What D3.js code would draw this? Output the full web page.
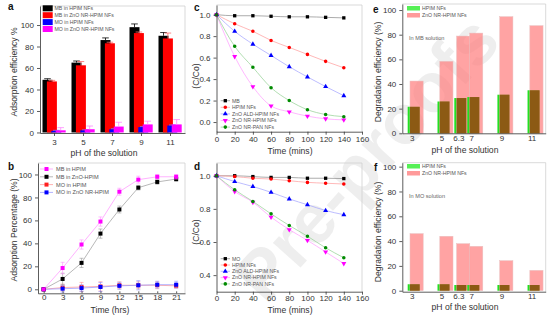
<!DOCTYPE html>
<html><head><meta charset="utf-8">
<script src="https://cdn.jsdelivr.net/npm/d3@7"></script>
<style>body{margin:0;background:#fff}svg{display:block;font-family:"Liberation Sans",Arial,sans-serif}</style>
</head><body><svg id="c" width="554" height="321"></svg>
<script>
// ---------- data ----------
// panel a
const phA = ["3","5","7","9","11"];
const aMB_HPIM = [49,65,86,98,90];
const aMB_ZnO = [47.5,62.5,83,92.5,87.5];
const aMO_HPIM = [1.5,2,3,5,6.5];
const aMO_ZnO = [2,3,5.5,7.5,7.5];
const aErrMB_HPIM = [1,1.5,2,3,3];
const aErrMB_ZnO = [1,3.5,1,1,5];
const aErrMO_HPIM = [0.5,0.5,0.5,0.5,0.5];
const aErrMO_ZnO = [2.5,3,4,3,4.5];
const aNames = ["MB in HPIM NFs","MB in ZnO NR-HPIM NFs","MO in HPIM NFs","MO in ZnO NR-HPIM NFs"];
// panel b
const tHrs = [0,3,6,9,12,15,18,21];
const bMB_HPIM = [0,18.5,39,59,85,95.5,98,98];
const bMB_ZnO = [0,9,23,48.5,69.5,88.5,93.5,96];
const bMO_HPIM = [0,1.5,2,2.5,3.5,3.5,3.5,3];
const bMO_ZnO = [0,0.5,1,2,3,3.5,4,4];
const bErrMB_HPIM = [0,5,4,4,3,3,2,2];
const bErrMB_ZnO = [0,5,4,4,3,2,2,2];
const bErrMO_HPIM = [0,3,4,4,3,3,3,2];
const bErrMO_ZnO = [0,3,3,4,3,4,3,3];
const bNames = ["MB in HPIM","MB in ZnO-HPIM","MO in HPIM","MO in ZnO NR-HPIM"];
// panels c, d
const tMin = [0,20,40,60,80,100,120,140];
const cMB = [1.0,0.99,0.99,0.985,0.98,0.98,0.975,0.97];
const cHPIM = [1.0,0.915,0.845,0.76,0.695,0.63,0.565,0.505];
const cALD = [1.0,0.845,0.725,0.62,0.515,0.42,0.33,0.245];
const cNRHPIM = [1.0,0.61,0.33,0.15,0.095,0.055,0.03,0.02];
const cNRPAN = [1.0,0.705,0.51,0.32,0.2,0.115,0.07,0.05];
const cNames = ["MB","HPIM NFs","ZnO ALD-HPIM NFs","ZnO NR-HPIM NFs","ZnO NR-PAN NFs"];
const dMO = [1.0,1.0,0.995,0.99,0.99,0.985,0.985,0.983];
const dHPIM = [1.0,0.995,0.985,0.98,0.97,0.96,0.955,0.95];
const dALD = [1.0,0.965,0.935,0.9,0.86,0.825,0.79,0.765];
const dNRHPIM = [1.0,0.905,0.84,0.75,0.675,0.61,0.54,0.47];
const dNRPAN = [1.0,0.915,0.845,0.77,0.70,0.635,0.565,0.505];
const dNames = ["MO","HPIM NFs","ZnO ALD-HPIM NFs","ZnO NR-HPIM NFs","ZnO NR-PAN NFs"];
// panels e, f
const phE = [3,5,6.3,7,9,11];
const phELabels = ["3","5","6.3","7","9","11"];
const eHPIM = [21.5,25.8,28.6,29.4,31.3,34.9];
const eZnO = [42.4,58.4,78.9,81.3,94.6,87.3];
const fHPIM = [5.2,5.2,4.6,4.6,4.6,4.6];
const fZnO = [46,43.9,37.9,35.8,24.2,16.4];
const eNames = ["HPIM NFs","ZnO NR-HPIM NFs"];

// ---------- helpers ----------
const svg = d3.select("#c");
const AX = "#333", FR = "#cfcfcf", TX = "#333";
function styleAxis(g){
  g.selectAll("path,line").attr("stroke",AX).attr("stroke-width",0.8);
  g.selectAll("text").attr("font-size",8).attr("fill",TX);
}
function frame(xr, yr){
  svg.append("path").attr("d",`M${xr[0]},${yr[1]}H${xr[1]}V${yr[0]}`)
    .attr("fill","none").attr("stroke",FR).attr("stroke-width",0.8);
}
function xAxis(scale, y, ticks, fmt, tsize, pad){
  const ax = d3.axisBottom(scale).tickSize(tsize===undefined?3:tsize).tickSizeOuter(0);
  if(pad!==undefined) ax.tickPadding(pad);
  if(ticks) ax.tickValues(ticks);
  if(fmt) ax.tickFormat(fmt);
  svg.append("g").attr("transform",`translate(0,${y})`).call(ax).call(styleAxis);
}
function yAxis(scale, x, ticks, fmt){
  const ax = d3.axisLeft(scale).tickSize(3).tickSizeOuter(0).tickValues(ticks);
  if(fmt) ax.tickFormat(fmt);
  svg.append("g").attr("transform",`translate(${x},0)`).call(ax).call(styleAxis);
}
function label(txt,x,y){ svg.append("text").attr("x",x).attr("y",y).attr("font-size",10).attr("font-weight","bold").attr("fill","#111").text(txt); }
function ylabel(txt,x,y){ svg.append("text").attr("transform",`translate(${x},${y}) rotate(-90)`).attr("text-anchor","middle").attr("font-size",8.6).attr("fill",TX).text(txt); }
function xlabel(txt,x,y){ svg.append("text").attr("x",x).attr("y",y).attr("text-anchor","middle").attr("font-size",8.6).attr("fill",TX).text(txt); }
function legText(txt,x,y,fs){ svg.append("text").attr("x",x).attr("y",y).attr("dy","0.35em").attr("font-size",fs||5.2).attr("fill","#555").text(txt); }

// watermark (behind marks)
svg.append("text").attr("transform","translate(266,306) rotate(-48)")
  .attr("font-size",70).attr("font-weight","bold").attr("fill","#bdbdbd").attr("fill-opacity",0.25)
  .text("Pre-proofs");

// ---------- panel a ----------
{
  const xr=[40,185], yr=[133,6];
  const x = d3.scaleBand().domain(phA).range(xr);
  const y = d3.scaleLinear().domain([-0.5,117.7]).range(yr);
  frame(xr,yr);
  const series = [[aMB_HPIM,aErrMB_HPIM,"#000","#000"],[aMB_ZnO,aErrMB_ZnO,"#ff0000","#ff6a6a"],[aMO_HPIM,aErrMO_HPIM,"#0000ff","#7070ff"],[aMO_ZnO,aErrMO_ZnO,"#ff00ff","#ff8aff"]];
  const bw=10, step=4.4;
  series.forEach((s,i)=>{
    phA.forEach((c,j)=>{
      const cx = x(c)+x.bandwidth()/2 - 12 + i*step;
      svg.append("rect").attr("x",cx).attr("y",y(s[0][j])).attr("width",bw).attr("height",y(0)-y(s[0][j])).attr("fill",s[2]);
      const mx = cx+bw/2, top=y(s[0][j]+s[1][j]);
      svg.append("path").attr("d",`M${mx},${y(s[0][j])}V${top}M${mx-3.3},${top}H${mx+3.3}`).attr("stroke",s[3]).attr("stroke-width",0.8).attr("fill","none");
    });
  });
  xAxis(x, yr[0]);
  yAxis(y, xr[0], [0,20,40,60,80,100]);
  aNames.forEach((n,i)=>{
    const yy = 8.3+i*6.9;
    svg.append("rect").attr("x",42.7).attr("y",yy-3).attr("width",10).attr("height",6).attr("fill",series[i][2]);
    legText(n,54.5,yy);
  });
  label("a",8,10);
  ylabel("Adsorption efficiency %",17,72);
  xlabel("pH of the solution",104,156);
}

// ---------- panel b ----------
{
  const xr=[38,185], yr=[293.3,163];
  const x = d3.scaleLinear().domain([-0.9,22.4]).range(xr);
  const y = d3.scaleLinear().domain([-3.5,110]).range(yr);
  frame(xr,yr);
  const series = [[bMO_HPIM,bErrMO_HPIM,"#ff2020","#ff9090"],[bMO_ZnO,bErrMO_ZnO,"#0000ff","#9090ff"],[bMB_ZnO,bErrMB_ZnO,"#000","#999"],[bMB_HPIM,bErrMB_HPIM,"#ff00ff","#ff90ff"]];
  const line = d3.line().x((d,i)=>x(tHrs[i])).y(d=>y(d));
  series.forEach(s=>{
    svg.append("path").attr("d",line(s[0])).attr("fill","none").attr("stroke",s[3]).attr("stroke-width",0.7);
    s[0].forEach((v,i)=>{
      if(s[1][i]>0){
        const mx=x(tHrs[i]), t=y(v+s[1][i]), b=y(v-s[1][i]);
        svg.append("path").attr("d",`M${mx},${b}V${t}M${mx-2},${t}H${mx+2}M${mx-2},${b}H${mx+2}`).attr("stroke",s[3]).attr("stroke-width",0.6).attr("fill","none");
      }
      svg.append("rect").attr("x",x(tHrs[i])-2).attr("y",y(v)-2).attr("width",4).attr("height",4).attr("fill",s[2]);
    });
  });
  xAxis(x, yr[0], tHrs, null, -2, 1.5);
  yAxis(y, xr[0], [0,20,40,60,80,100]);
  const leg = [["#ff00ff","#ff90ff"],["#000","#999"],["#ff2020","#ff9090"],["#0000ff","#9090ff"]];
  bNames.forEach((n,i)=>{
    const yy = 169+i*7.8;
    svg.append("line").attr("x1",40).attr("x2",53).attr("y1",yy).attr("y2",yy).attr("stroke",leg[i][1]).attr("stroke-width",0.7);
    svg.append("rect").attr("x",44.5).attr("y",yy-2).attr("width",4).attr("height",4).attr("fill",leg[i][0]);
    legText(n,56,yy,5.6);
  });
  label("b",8,170);
  ylabel("Adsorption Percentage (%)",17,230);
  xlabel("Time (hrs)",110,313);
}

// ---------- panels c & d ----------
const symSq = d3.symbol().type(d3.symbolSquare).size(11)();
const symCi = d3.symbol().type(d3.symbolCircle).size(10)();
const symTu = d3.symbol().type(d3.symbolTriangle).size(11)();
const symTd = symTu;
function decay(vals, names, yr, ydom, yticks, legY0, legStep, pad){
  const xr=[216.5,362];
  const x = d3.scaleLinear().domain([0,160]).range(xr);
  const y = d3.scaleLinear().domain(ydom).range(yr);
  frame(xr,yr);
  const styles = [["#000","#888",symSq,0],["#ff0000","#ff9a9a",symCi,0],["#0000ff","#a0a0ff",symTu,0],["#ff00ff","#ff9aff",symTd,180],["#008a00","#90d090",symCi,0]];
  const line = d3.line().x((d,i)=>x(tMin[i])).y(d=>y(d)).curve(d3.curveMonotoneX);
  vals.forEach((s,k)=>{
    svg.append("path").attr("d",line(s)).attr("fill","none").attr("stroke",styles[k][1]).attr("stroke-width",0.7);
  });
  vals.forEach((s,k)=>{
    s.forEach((v,i)=>{
      svg.append("path").attr("d",styles[k][2]).attr("transform",`translate(${x(tMin[i])},${y(v)}) rotate(${styles[k][3]})`).attr("fill",styles[k][0]);
    });
  });
  xAxis(x, yr[0], d3.range(0,161,20), null, 3, pad);
  yAxis(y, xr[0], yticks, d3.format(".1f"));
  names.forEach((n,i)=>{
    const yy = legY0+i*legStep;
    svg.append("line").attr("x1",220.7).attr("x2",230).attr("y1",yy).attr("y2",yy).attr("stroke",styles[i][1]).attr("stroke-width",0.7);
    svg.append("path").attr("d",styles[i][2]).attr("transform",`translate(225.3,${yy}) rotate(${styles[i][3]})`).attr("fill",styles[i][0]);
    legText(n,232,yy,5.2);
  });
}
decay([cMB,cHPIM,cALD,cNRHPIM,cNRPAN], cNames, [131.7,5], [-0.09,1.09], [0,0.2,0.4,0.6,0.8,1.0], 100.7, 6.6, 2);
label("c",194,11);
ylabel("(C/Co)",199,76);
xlabel("Time (mins)",290,154);
decay([dMO,dHPIM,dALD,dNRHPIM,dNRPAN], dNames, [291.7,163], [0.3,1.077], [0.4,0.6,0.8,1.0], 258.7, 6.3, 0.5);
label("d",194,170);
ylabel("(C/Co)",199,232);
xlabel("Time (mins)",290,313);

// ---------- panels e & f ----------
function degr(g, z, yr, ydom, note, ly){
  const xr=[402.3,545.7];
  const x = d3.scaleLinear().domain([2.37,5,6.1,7,11.94]).range([402.3,441.5,458.3,471.3,545.7]);
  const y = d3.scaleLinear().domain(ydom).range(yr);
  frame(xr,yr);
  phE.forEach((p,i)=>{
    const px = x(p===6.3?6.1:p);
    const gx0=px-4, gx1=px+8, zx0=px-1.7, zx1=px+11.5;
    svg.append("rect").attr("x",gx0).attr("y",y(g[i])).attr("width",gx1-gx0).attr("height",y(0)-y(g[i])).attr("fill","#22e022");
    svg.append("rect").attr("x",zx0).attr("y",y(z[i])).attr("width",zx1-zx0).attr("height",y(0)-y(z[i])).attr("fill","#ff8080").attr("fill-opacity",0.72).attr("stroke","#eac0c0").attr("stroke-width",0.5);
    const h = Math.min(g[i],z[i]);
    svg.append("rect").attr("x",zx0).attr("y",y(h)).attr("width",gx1-zx0).attr("height",y(0)-y(h)).attr("fill","#8c5a14");
  });
  xAxis(x, yr[0], phE.map(p=>p===6.3?6.1:p), (d,i)=>phELabels[i], 0, 2);
  yAxis(y, xr[0], [0,20,40,60,80,100]);
  svg.append("rect").attr("x",407).attr("y",ly-2.5).attr("width",13).attr("height",4.5).attr("fill","#55f055");
  legText(eNames[0],422,ly,5.2);
  svg.append("rect").attr("x",407).attr("y",ly+4.5).attr("width",13).attr("height",4.5).attr("fill","#ff9a9a");
  legText(eNames[1],422,ly+7,5.2);
  svg.append("text").attr("x",409).attr("y",ly+30).attr("dy","0.35em").attr("font-size",5.6).attr("fill","#666").text(note);
}
degr(eHPIM,eZnO,[133.3,4],[0,104.9],"In MB solution",8.5);
label("e",373,13);
ylabel("Degradation efficiency (%)",381,72);
xlabel("pH of the solution",465,153);
degr(fHPIM,fZnO,[291.7,162.7],[-0.8,103.2],"In MO solution",166.5);
label("f",374,171);
ylabel("Degradation efficiency (%)",381,232);
xlabel("pH of the solution",465,310);
</script></body></html>
